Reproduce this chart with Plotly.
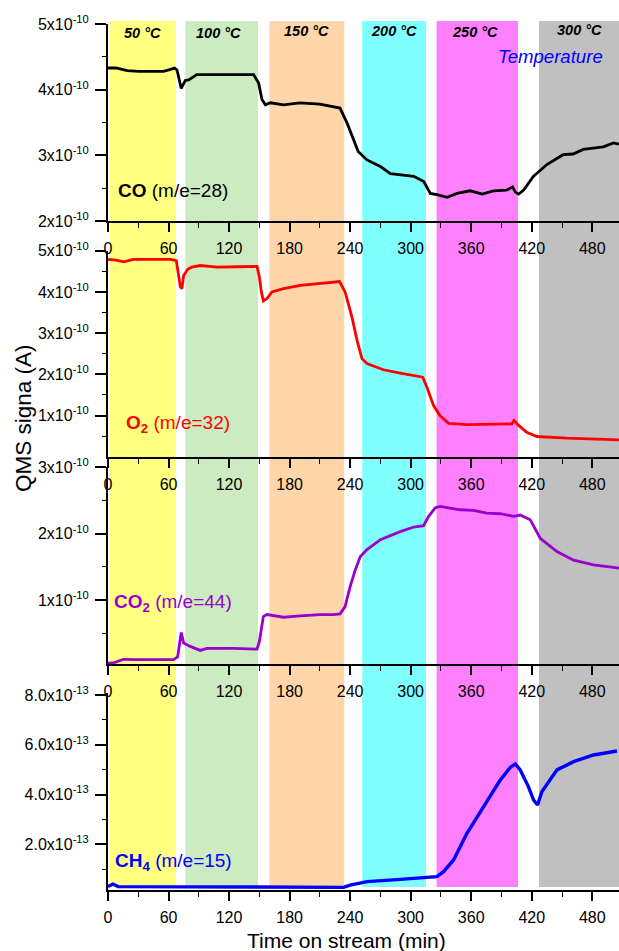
import plotly.graph_objects as go

# ---------------- data ----------------
TIME_MAX = 506.5

# temperature steps (min) and their labels
band_start = [2, 76.6, 160, 252, 325.7, 427.2]
band_end = [67.4, 148.7, 234.2, 315.2, 406.4, 506.5]
band_colors = ["#FFFF80", "#CCEBC0", "#FFD6AA", "#80FFFF", "#FF80FF", "#C0C0C0"]
band_labels = ["50 °C", "100 °C", "150 °C", "200 °C", "250 °C", "300 °C"]
band_label_t = [34, 109.3, 197.2, 283.7, 364, 467]
band_label_px = [33.5, 33, 31, 31, 32.5, 30]

# CO, m/e = 28 (x1e-10 A)
co_t = [0, 8, 19, 30, 45, 55, 62, 66, 68.4, 70.7, 72.6, 76.6, 80, 88, 110, 130, 144.3,
        149.3, 152.6, 156, 161, 174, 190, 210, 223, 230, 237, 243.4, 248, 256.7, 270,
        280, 290, 303, 313, 319.5, 326, 336, 346, 359, 371, 382, 395, 401, 403.7, 407,
        412, 421.6, 435, 451, 461, 471, 481, 491, 501, 506.5]
co_v = [4.33, 4.33, 4.29, 4.28, 4.28, 4.28, 4.31, 4.33, 4.30, 4.15, 4.02, 4.14, 4.15,
        4.23, 4.23, 4.23, 4.23, 4.10, 3.85, 3.77, 3.80, 3.77, 3.80, 3.78, 3.74, 3.72,
        3.49, 3.24, 3.06, 2.93, 2.83, 2.72, 2.70, 2.68, 2.60, 2.42, 2.40, 2.36, 2.42,
        2.46, 2.41, 2.46, 2.47, 2.52, 2.44, 2.41, 2.47, 2.68, 2.86, 3.01, 3.02, 3.09,
        3.11, 3.13, 3.19, 3.17]

# O2, m/e = 32 (x1e-10 A)
o2_t = [0, 8, 15.5, 25, 45, 62, 67.7, 70, 71.7, 73.3, 75, 79, 83, 91.5, 108, 130, 147.7,
        150, 152, 154, 157.6, 162.5, 174, 190.6, 210, 229.5, 235, 241.8, 246.8, 251.7,
        256.7, 273, 289.7, 312, 316, 322.7, 329, 337.6, 355.8, 388.8, 400.4, 402.4, 407,
        415, 425, 455, 480, 506.5]
o2_v = [4.79, 4.77, 4.73, 4.79, 4.79, 4.79, 4.76, 4.45, 4.12, 4.08, 4.40, 4.55, 4.60,
        4.64, 4.60, 4.61, 4.62, 4.37, 4.00, 3.78, 3.84, 4.00, 4.08, 4.16, 4.20, 4.25,
        4.00, 3.39, 2.83, 2.38, 2.26, 2.11, 2.03, 1.93, 1.69, 1.24, 1.00, 0.81, 0.78,
        0.80, 0.80, 0.88, 0.76, 0.59, 0.49, 0.45, 0.43, 0.41]

# CO2, m/e = 44 (x1e-10 A)
co2_t = [0, 5, 9, 15.5, 30, 50, 65, 69, 71, 72.6, 75, 81.6, 91.5, 98, 124.5, 147.7, 150,
         152, 154, 157.6, 174, 190.6, 210, 223.6, 230, 235, 240, 245, 250, 256.7, 270,
         289.7, 303, 312.8, 317.8, 324.4, 329.3, 349, 362, 375.6, 388.8, 402, 408.6,
         418.5, 428.4, 445, 461.5, 481.3, 506.5]
co2_v = [0.046, 0.05, 0.07, 0.106, 0.10, 0.10, 0.10, 0.14, 0.35, 0.51, 0.35, 0.30, 0.24,
         0.27, 0.27, 0.26, 0.37, 0.58, 0.75, 0.78, 0.74, 0.76, 0.78, 0.78, 0.79, 0.90,
         1.20, 1.45, 1.65, 1.76, 1.91, 2.03, 2.10, 2.12, 2.26, 2.39, 2.41, 2.36, 2.35,
         2.31, 2.30, 2.26, 2.28, 2.21, 1.93, 1.73, 1.60, 1.53, 1.48]

# CH4, m/e = 15 (x1e-13 A)
ch4_t = [0, 5, 10, 30, 60, 90, 120, 150, 190, 233.5, 240, 256.7, 289.7, 312.8, 326,
         332.6, 342.5, 355.8, 372.2, 388.8, 398.7, 403.7, 408.6, 416.8, 421.8, 425.8,
         430, 445, 461.5, 481.3, 504.5]
ch4_v = [0.30, 0.40, 0.30, 0.30, 0.28, 0.30, 0.29, 0.28, 0.30, 0.27, 0.36, 0.50, 0.59,
         0.66, 0.70, 0.90, 1.37, 2.44, 3.51, 4.58, 5.09, 5.23, 4.99, 4.31, 3.78, 3.58,
         4.11, 4.99, 5.32, 5.59, 5.75]

# x ticks
x_ticks = [0, 60, 120, 180, 240, 300, 360, 420, 480]
x_minor = [30, 90, 150, 210, 270, 330, 390, 450]

# ---------------- layout geometry ----------------
W, H = 619, 951
M_L, M_R, M_T, M_B = 108, 0, 24, 61
PH = H - M_T - M_B  # plot-area height in px


def frac(py):
    """pixel row -> paper fraction"""
    return (H - M_B - py) / PH


FONT = "Arial, Liberation Sans, sans-serif"

panels = [
    dict(top=24, bot=221, rng=[2e-10, 5e-10],
         ticks=[2e-10, 3e-10, 4e-10, 5e-10],
         text=["2x10<sup>-10</sup>", "3x10<sup>-10</sup>", "4x10<sup>-10</sup>", "5x10<sup>-10</sup>"],
         minor=[2.5e-10, 3.5e-10, 4.5e-10],
         t=co_t, v=co_v, scale=1e-10, color="#000000", lw=2.8,
         label="<b>CO</b> (m/e=28)", lt=8, lv=2.46e-10),
    dict(top=250.7, bot=456.7, rng=[0, 5e-10],
         ticks=[1e-10, 2e-10, 3e-10, 4e-10, 5e-10],
         text=["1x10<sup>-10</sup>", "2x10<sup>-10</sup>", "3x10<sup>-10</sup>",
               "4x10<sup>-10</sup>", "5x10<sup>-10</sup>"],
         minor=[0.5e-10, 1.5e-10, 2.5e-10, 3.5e-10, 4.5e-10],
         t=o2_t, v=o2_v, scale=1e-10, color="#FF0000", lw=2.8,
         label="<b>O<sub>2</sub></b> (m/e=32)", lt=15.5, lv=0.80e-10),
    dict(top=467.3, bot=664, rng=[3.5e-12, 3e-10],
         ticks=[1e-10, 2e-10, 3e-10],
         text=["1x10<sup>-10</sup>", "2x10<sup>-10</sup>", "3x10<sup>-10</sup>"],
         minor=[0.5e-10, 1.5e-10, 2.5e-10],
         t=co2_t, v=co2_v, scale=1e-10, color="#9900CC", lw=2.8,
         label="<b>CO<sub>2</sub></b> (m/e=44)", lt=4, lv=0.955e-10),
    dict(top=693, bot=890, rng=[1.63e-14, 8.08e-13],
         ticks=[2e-13, 4e-13, 6e-13, 8e-13],
         text=["2.0x10<sup>-13</sup>", "4.0x10<sup>-13</sup>", "6.0x10<sup>-13</sup>",
               "8.0x10<sup>-13</sup>"],
         minor=[1e-13, 3e-13, 5e-13, 7e-13],
         t=ch4_t, v=ch4_v, scale=1e-13, color="#0000FF", lw=3.4,
         label="<b>CH<sub>4</sub></b> (m/e=15)", lt=5, lv=1.29e-13),
]

fig = go.Figure()
layout = dict(
    width=W, height=H,
    margin=dict(l=M_L, r=M_R, t=M_T, b=M_B, pad=0),
    paper_bgcolor="white", plot_bgcolor="rgba(0,0,0,0)",
    showlegend=False,
    font=dict(family=FONT, size=16, color="#000000"),
)

annotations = []
for i, p in enumerate(panels, start=1):
    sfx = "" if i == 1 else str(i)
    fig.add_trace(go.Scatter(
        x=p["t"], y=[val * p["scale"] for val in p["v"]],
        mode="lines", line=dict(color=p["color"], width=p["lw"]),
        xaxis="x" + sfx, yaxis="y" + sfx, hoverinfo="skip",
    ))
    layout["xaxis" + sfx] = dict(
        domain=[0, 1], range=[0, TIME_MAX], anchor="y" + sfx,
        showline=True, linecolor="#000000", linewidth=2,
        showgrid=False, zeroline=False,
        ticks="outside", ticklen=9, tickwidth=1.6, tickcolor="#000000",
        tickmode="array", tickvals=x_ticks, ticktext=[str(v) for v in x_ticks],
        tickfont=dict(family=FONT, size=16, color="#000000"),
        ticklabelstandoff=3,
        minor=dict(tickmode="array", tickvals=x_minor, ticks="outside",
                   ticklen=5, tickwidth=1.4, tickcolor="#000000"),
    )
    layout["yaxis" + sfx] = dict(
        domain=[frac(p["bot"]), frac(p["top"])], range=p["rng"], anchor="x" + sfx,
        showline=True, linecolor="#000000", linewidth=2,
        showgrid=False, zeroline=False,
        ticks="outside", ticklen=11, tickwidth=1.6, tickcolor="#000000",
        tickmode="array", tickvals=p["ticks"], ticktext=p["text"],
        tickfont=dict(family=FONT, size=16, color="#000000"),
        ticklabelstandoff=3,
        minor=dict(tickmode="array", tickvals=p["minor"], ticks="outside",
                   ticklen=4, tickwidth=1.4, tickcolor="#000000"),
    )
    annotations.append(dict(
        x=p["lt"], y=p["lv"], xref="x" + sfx, yref="y" + sfx,
        text=p["label"], showarrow=False, xanchor="left", yanchor="middle",
        font=dict(family=FONT, size=19, color=p["color"]),
    ))

# temperature step bands running through all four panels
shapes = []
for x0, x1, c in zip(band_start, band_end, band_colors):
    shapes.append(dict(
        type="rect", xref="x4", yref="paper", x0=x0, x1=x1,
        y0=frac(887), y1=frac(21), fillcolor=c, line=dict(width=0), layer="below",
    ))

for lbl, t, py in zip(band_labels, band_label_t, band_label_px):
    annotations.append(dict(
        x=t, y=frac(py), xref="x", yref="paper", text="<b><i>" + lbl + "</i></b>",
        showarrow=False, xanchor="center", yanchor="middle",
        font=dict(family=FONT, size=14.5, color="#000000"),
    ))

annotations.append(dict(
    x=439, y=frac(56.5), xref="x", yref="paper", text="<i>Temperature</i>",
    showarrow=False, xanchor="center", yanchor="middle",
    font=dict(family=FONT, size=18.6, color="#0000FF"),
))

# shared axis titles
annotations.append(dict(
    x=(346 - M_L) / (W - M_L - M_R), y=frac(941), xref="paper", yref="paper",
    text="Time on stream (min)", showarrow=False, xanchor="center", yanchor="middle",
    font=dict(family=FONT, size=21, color="#000000"),
))
annotations.append(dict(
    x=(23 - M_L) / (W - M_L - M_R), y=frac(418), xref="paper", yref="paper",
    text="QMS signa (A)", showarrow=False, xanchor="center", yanchor="middle",
    textangle=-90, font=dict(family=FONT, size=22.5, color="#000000"),
))

layout["shapes"] = shapes
layout["annotations"] = annotations
fig.update_layout(**layout)

fig.write_html("out.html")
